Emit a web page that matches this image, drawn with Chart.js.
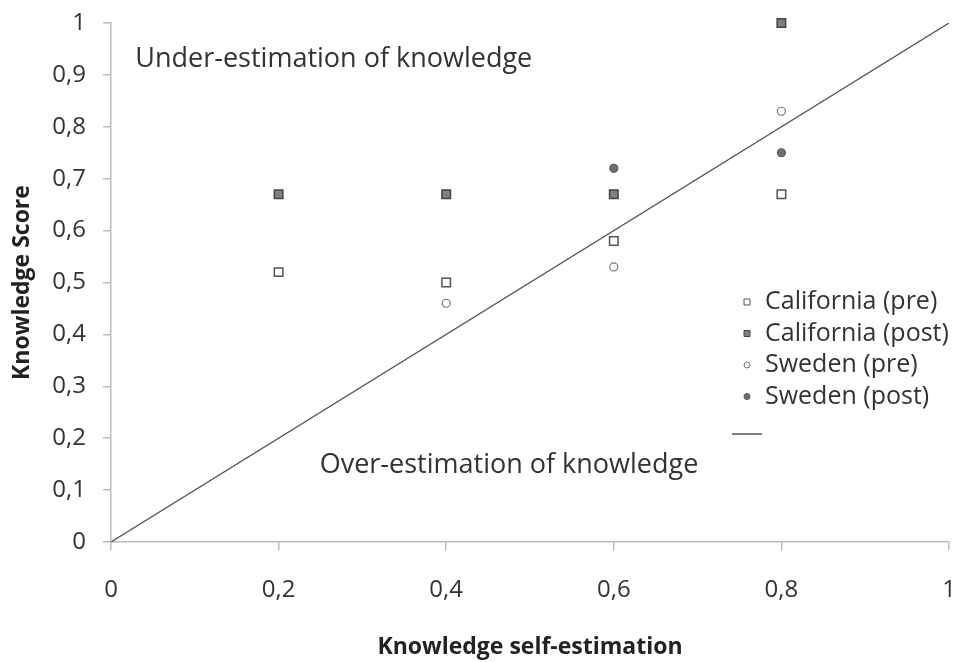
<!DOCTYPE html>
<html>
<head>
<meta charset="utf-8">
<script src="https://cdn.jsdelivr.net/npm/chart.js@4/dist/chart.umd.min.js"></script>
<style>
  html, body { margin: 0; padding: 0; background: #fff; }
  #wrap { width: 957px; height: 662px; }
</style>
</head>
<body>
<div id="wrap"><canvas id="knowledgeChart" width="957" height="662"></canvas></div>
<script>
// self-estimation (x) and knowledge score (y) per group
const caPreX = [0.2, 0.4, 0.6, 0.8];
const caPreY = [0.52, 0.50, 0.58, 0.67];
const caPostX = [0.2, 0.4, 0.6, 0.8];
const caPostY = [0.67, 0.67, 0.67, 1.0];
const swPreX = [0.4, 0.6, 0.8];
const swPreY = [0.46, 0.53, 0.83];
const swPostX = [0.4, 0.6, 0.8];
const swPostY = [0.67, 0.72, 0.75];
const refLineX = [0, 1];
const refLineY = [0, 1];

const groupLabels = ['California (pre)', 'California (post)', 'Sweden (pre)', 'Sweden (post)', ''];
const notes = ['Under-estimation of knowledge', 'Over-estimation of knowledge'];
const noteX = [0.029, 0.249];
const noteY = [0.93, 0.148];

const font = "'Open Sans', 'Noto Sans', sans-serif";
const textColor = '#333';

function pts(xs, ys) {
    return xs.map((x, i) => ({ x: x, y: ys[i] }));
}
function comma(v) {
    return String(Math.round(v * 10) / 10).replace('.', ',');
}

// legend drawn by hand so it can sit inside the plot like the original
const sideLegend = {
    id: 'sideLegend',
    afterDraw(chart) {
        const ctx = chart.ctx;
        const area = chart.chartArea;
        const x0 = area.right - 202;
        let y = 302;
        ctx.save();
        ctx.font = '25px ' + font;
        ctx.textBaseline = 'middle';
        chart.data.datasets.forEach((ds, i) => {
            if (ds.showLine) {
                y = 434;
                ctx.strokeStyle = ds.borderColor;
                ctx.lineWidth = 1.5;
                ctx.beginPath();
                ctx.moveTo(x0 - 15, y);
                ctx.lineTo(x0 + 15, y);
                ctx.stroke();
                return;
            }
            ctx.fillStyle = ds.backgroundColor;
            ctx.strokeStyle = ds.borderColor;
            ctx.lineWidth = 1;
            ctx.beginPath();
            if (ds.pointStyle === 'rect') {
                ctx.rect(x0 - 3, y - 3, 6, 6);
            } else {
                ctx.arc(x0, y, 3, 0, Math.PI * 2);
            }
            ctx.fill();
            ctx.stroke();
            ctx.fillStyle = textColor;
            ctx.fillText(ds.label, x0 + 18, y);
            y += 31.5;
        });
        ctx.restore();
    }
};

const notesPlugin = {
    id: 'notes',
    afterDraw(chart) {
        const ctx = chart.ctx;
        const sx = chart.scales.x, sy = chart.scales.y;
        ctx.save();
        ctx.font = '27px ' + font;
        ctx.fillStyle = textColor;
        ctx.textBaseline = 'middle';
        notes.forEach((t, i) => {
            ctx.fillText(t, sx.getPixelForValue(noteX[i]), sy.getPixelForValue(noteY[i]));
        });
        ctx.restore();
    }
};

const ctx = document.getElementById('knowledgeChart').getContext('2d');
new Chart(ctx, {
    type: 'scatter',
    data: {
        datasets: [
            { label: groupLabels[0], data: pts(caPreX, caPreY), pointStyle: 'rect', pointRadius: 6, pointHoverRadius: 6,
              backgroundColor: '#ffffff', borderColor: '#555', borderWidth: 1.5, clip: false },
            { label: groupLabels[1], data: pts(caPostX, caPostY), pointStyle: 'rect', pointRadius: 6, pointHoverRadius: 6,
              backgroundColor: '#808080', borderColor: '#444', borderWidth: 1.5, clip: false },
            { label: groupLabels[2], data: pts(swPreX, swPreY), pointStyle: 'circle', pointRadius: 4, pointHoverRadius: 4,
              backgroundColor: '#ffffff', borderColor: '#777', borderWidth: 1.2, clip: false },
            { label: groupLabels[3], data: pts(swPostX, swPostY), pointStyle: 'circle', pointRadius: 4, pointHoverRadius: 4,
              backgroundColor: '#707070', borderColor: '#5a5a5a', borderWidth: 1.2, clip: false },
            { label: groupLabels[4], data: pts(refLineX, refLineY), showLine: true, pointRadius: 0,
              borderColor: '#555', borderWidth: 1.3, backgroundColor: '#555' }
        ]
    },
    options: {
        responsive: false,
        animation: false,
        layout: { padding: { top: 23, right: 8, left: 0, bottom: 0 } },
        plugins: {
            legend: { display: false },
            tooltip: { enabled: false }
        },
        scales: {
            x: {
                type: 'linear', min: 0, max: 1,
                afterFit: s => { s.height = 120; s.paddingLeft = 0; s.paddingRight = 0; },
                border: { color: '#bbb', width: 1.5 },
                grid: { drawOnChartArea: false, tickLength: 8, color: '#bbb', lineWidth: 1.5 },
                ticks: { stepSize: 0.2, padding: 26, color: textColor, font: { family: font, size: 24 }, callback: v => comma(v) },
                title: { display: true, text: 'Knowledge self-estimation', color: '#222',
                         font: { family: font, size: 23, weight: 'bold' }, padding: { top: 0, bottom: 1 } }
            },
            y: {
                type: 'linear', min: 0, max: 1,
                afterFit: s => { s.width = 111; s.paddingTop = 0; s.paddingBottom = 0; },
                border: { color: '#bbb', width: 1.5 },
                grid: { drawOnChartArea: false, tickLength: 8, color: '#bbb', lineWidth: 1.5 },
                ticks: { stepSize: 0.1, padding: 17, color: textColor, font: { family: font, size: 24 }, callback: v => comma(v) },
                title: { display: true, text: 'Knowledge Score', color: '#222',
                         font: { family: font, size: 23, weight: 'bold' }, padding: { top: 9, bottom: 0 } }
            }
        }
    },
    plugins: [sideLegend, notesPlugin]
});
</script>
</body>
</html>
